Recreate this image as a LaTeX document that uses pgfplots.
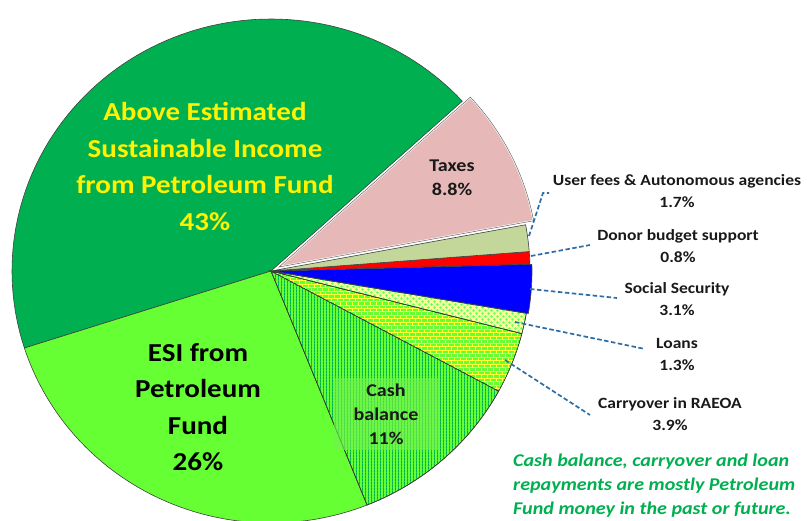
\documentclass[border=0pt]{standalone}
\usepackage{pgfplots}
\pgfplotsset{compat=1.18}
\usepackage{fontspec}
\setmainfont{Carlito}[FakeStretch=1.12]
\usetikzlibrary{patterns,patterns.meta}
\definecolor{cAbove}{HTML}{00B050}
\definecolor{cESI}{HTML}{66FF33}
\definecolor{cCash}{HTML}{66FF33}
\definecolor{cStripe}{HTML}{00B050}
\definecolor{cCarry}{HTML}{66FF33}
\definecolor{cBrick}{HTML}{FFFF33}
\definecolor{cLoans}{HTML}{FFFF99}
\definecolor{cDots}{HTML}{66FF66}
\definecolor{cSS}{HTML}{0000FF}
\definecolor{cDonor}{HTML}{FF0000}
\definecolor{cUser}{HTML}{C4D79B}
\definecolor{cTax}{HTML}{E6B9B8}
\definecolor{cLead}{HTML}{2E6DA4}
\definecolor{cNote}{HTML}{00B050}
\definecolor{cBox}{HTML}{72F24E}
\pgfdeclarepatternformonly{smallbricks}{\pgfqpoint{-0.5pt}{-0.5pt}}{\pgfqpoint{6.5pt}{7.5pt}}{\pgfqpoint{6pt}{7pt}}{%
  \pgfsetlinewidth{0.6pt}%
  \pgfpathmoveto{\pgfqpoint{0pt}{0pt}}\pgfpathlineto{\pgfqpoint{6pt}{0pt}}%
  \pgfpathmoveto{\pgfqpoint{0pt}{3.5pt}}\pgfpathlineto{\pgfqpoint{6pt}{3.5pt}}%
  \pgfpathmoveto{\pgfqpoint{0pt}{0pt}}\pgfpathlineto{\pgfqpoint{0pt}{3.5pt}}%
  \pgfpathmoveto{\pgfqpoint{3pt}{3.5pt}}\pgfpathlineto{\pgfqpoint{3pt}{7pt}}%
  \pgfusepath{stroke}}
\pgfdeclarepatternformonly{checkdots}{\pgfqpoint{0pt}{0pt}}{\pgfqpoint{6pt}{6pt}}{\pgfqpoint{6pt}{6pt}}{%
  \pgfpathcircle{\pgfqpoint{1.5pt}{1.5pt}}{1.4pt}%
  \pgfpathcircle{\pgfqpoint{4.5pt}{4.5pt}}{1.4pt}%
  \pgfusepath{fill}}
\pgfdeclarepatternformonly{vstripes}{\pgfqpoint{0pt}{0pt}}{\pgfqpoint{3.3pt}{3.3pt}}{\pgfqpoint{3.3pt}{3.3pt}}{%
  \pgfpathrectangle{\pgfqpoint{0pt}{0pt}}{\pgfqpoint{1.2pt}{3.3pt}}%
  \pgfusepath{fill}}
% slice: start angle, end angle, centre x, centre y, style
\newcommand\pieslice[5]{%
  \addplot[#5, domain=#1:#2, samples=90, variable=\t]
    ({#3+259*cos(\t)},{#4+252*sin(\t)}) -- (#3,#4) -- cycle;}
\begin{document}
\begin{tikzpicture}
% shares in percent
\def\pESI{26}\def\pCash{11}\def\pCarry{3.9}\def\pLoans{1.3}\def\pSS{3.1}
\def\pDonor{0.8}\def\pUser{1.7}\def\pTax{8.8}\def\pAbove{43}
\pgfmathsetmacro\tot{\pESI+\pCash+\pCarry+\pLoans+\pSS+\pDonor+\pUser+\pTax+\pAbove}
\pgfmathsetmacro\k{360/\tot}
\pgfmathsetmacro\aA{197.8}
\pgfmathsetmacro\aB{\aA+\pESI*\k}
\pgfmathsetmacro\aC{\aB+\pCash*\k}
\pgfmathsetmacro\aD{\aC+\pCarry*\k}
\pgfmathsetmacro\aE{\aD+\pLoans*\k}
\pgfmathsetmacro\aF{\aE+\pSS*\k}
\pgfmathsetmacro\aG{\aF+\pDonor*\k}
\pgfmathsetmacro\aH{\aG+\pUser*\k}
\pgfmathsetmacro\aI{\aH+\pTax*\k}
\pgfmathsetmacro\aJ{\aI+\pAbove*\k}
\def\cx{271}\def\cy{250}
\pgfmathsetmacro\tx{\cx+9*cos((\aH+\aI)/2)}
\pgfmathsetmacro\ty{\cy+9*sin((\aH+\aI)/2)}
\pgfmathsetmacro\sx{\cx+2*cos((\aE+\aF)/2)}
\pgfmathsetmacro\sy{\cy+2*sin((\aE+\aF)/2)}
\useasboundingbox (0,0) rectangle (807bp,521bp);
\begin{axis}[at={(0,0)}, anchor=south west, x=1bp, y=1bp,
  xmin=0, xmax=807, ymin=0, ymax=521, hide axis, clip=true]
\tikzset{sl/.style={draw=black!75, line width=0.6bp}}
\pieslice{\aI}{\aJ}{\cx}{\cy}{sl, fill=cAbove}
\pieslice{\aA}{\aB}{\cx}{\cy}{sl, fill=cESI}
\pieslice{\aB}{\aC}{\cx}{\cy}{fill=cCash}
\pieslice{\aB}{\aC}{\cx}{\cy}{sl, pattern=vstripes, pattern color=cStripe}
\pieslice{\aC}{\aD}{\cx}{\cy}{fill=cCarry}
\pieslice{\aC}{\aD}{\cx}{\cy}{sl, pattern=smallbricks, pattern color=cBrick}
\pieslice{\aD}{\aE}{\cx}{\cy}{fill=cLoans}
\pieslice{\aD}{\aE}{\cx}{\cy}{sl, pattern=checkdots, pattern color=cDots}
\pieslice{\aF}{\aG}{\cx}{\cy}{sl, fill=cDonor}
\pieslice{\aG}{\aH}{\cx}{\cy}{sl, fill=cUser}
\pieslice{\aE}{\aF}{\sx}{\sy}{sl, fill=cSS}
\pieslice{\aH}{\aI}{\tx}{\ty}{draw=white, line width=1.8bp, fill=cTax}
\pieslice{\aH}{\aI}{\tx}{\ty}{draw=black!60, line width=0.5bp}
% leader lines
\draw[cLead, line width=1.7bp, dash pattern=on 4.5bp off 2.5bp]
  (529,285) -- (543,328) -- (549,328)
  (531,265) -- (590,276)
  (530,232) -- (617,223)
  (515,199) -- (645,172)
  (505,161) -- (590,106);
% labels
\node[align=center, text=yellow, font=\bfseries\fontsize{26}{36.5}\selectfont]
  at (205,354.5) {Above Estimated\\Sustainable Income\\from Petroleum Fund\\43\%};
\node[align=center, text=black, font=\bfseries\fontsize{26}{36.5}\selectfont]
  at (198,114) {ESI from\\Petroleum\\Fund\\26\%};
\node[align=center, text=black!90, font=\bfseries\fontsize{18}{24}\selectfont]
  at (452,343) {Taxes\\8.8\%};
\node[align=center, text=black!90, fill=cBox, fill opacity=0.65, text opacity=1,
  minimum width=105bp, minimum height=72bp, inner sep=0pt,
  font=\bfseries\fontsize{18}{24}\selectfont]
  at (386,107) {Cash\\balance\\11\%};
\tikzset{rl/.style={align=center, text=black!90, font=\bfseries\fontsize{15.7}{22}\selectfont}}
\node[rl] at (677,330) {User fees \& Autonomous agencies\\1.7\%};
\node[rl] at (678,275) {Donor budget support\\0.8\%};
\node[rl] at (677,221.5) {Social Security\\3.1\%};
\node[rl] at (677,166.5) {Loans\\1.3\%};
\node[rl] at (670,107) {Carryover in RAEOA\\3.9\%};
\node[anchor=west, align=left, text=cNote, inner sep=0pt,
  font=\bfseries\itshape\fontsize{18}{24}\selectfont]
  at (513,35) {Cash balance, carryover and loan\\repayments are mostly Petroleum\\Fund money in the past or future.};
\end{axis}
\end{tikzpicture}
\end{document}
